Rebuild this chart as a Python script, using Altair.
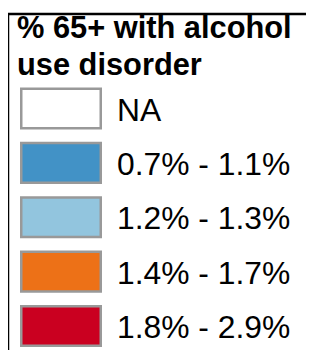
import altair as alt
import pandas as pd

title_lines = ["% 65+ with alcohol", "use disorder"]
categories = ["NA", "0.7% - 1.1%", "1.2% - 1.3%", "1.4% - 1.7%", "1.8% - 2.9%"]
colors = ["#ffffff", "#4292c6", "#92c5de", "#ed7117", "#ca0020"]

df = pd.DataFrame({"label": categories, "color": colors})

W, H = 298, 336
FONT = "Liberation Sans"

yscale = alt.Scale(type="point", domain=categories, range=[94.5, 312], padding=0)

swatch = alt.Chart(df).mark_point(
    shape="M-1,-0.497H1V0.497H-1Z", size=6320, filled=True,
    stroke="#999999", strokeWidth=2.5, opacity=1,
).encode(
    y=alt.Y("label:N", scale=yscale, axis=None),
    x=alt.value(53),
    fill=alt.Fill("color:N", scale=None, legend=None),
)

labels = alt.Chart(df).mark_text(
    align="left", baseline="middle", fontSize=31.8, font=FONT, color="black", dy=2,
).encode(
    y=alt.Y("label:N", scale=yscale, axis=None),
    x=alt.value(109),
    text="label:N",
)

one = pd.DataFrame({"a": [1]})

title = alt.Chart(one).mark_text(
    align="left", baseline="alphabetic", fontSize=30.8, font=FONT, fontWeight="bold",
    color="black", lineHeight=37,
).encode(x=alt.value(9), y=alt.value(24), text=alt.value(title_lines))

left_rule = alt.Chart(one).mark_rule(color="black", strokeWidth=2.5).encode(
    x=alt.value(0), y=alt.value(0), y2=alt.value(H + 20)
)
top_rule = alt.Chart(one).mark_rule(color="black", strokeWidth=2.5).encode(
    x=alt.value(0), x2=alt.value(W + 20), y=alt.value(0)
)

chart = alt.layer(left_rule, top_rule, title, swatch, labels).properties(
    width=W, height=H,
    padding={"left": 0, "top": 6, "right": 0, "bottom": 0},
    autosize=alt.AutoSizeParams(type="none"),
).configure_view(strokeWidth=0)

chart.save("out.html", embed_options={"renderer": "svg", "actions": False})
